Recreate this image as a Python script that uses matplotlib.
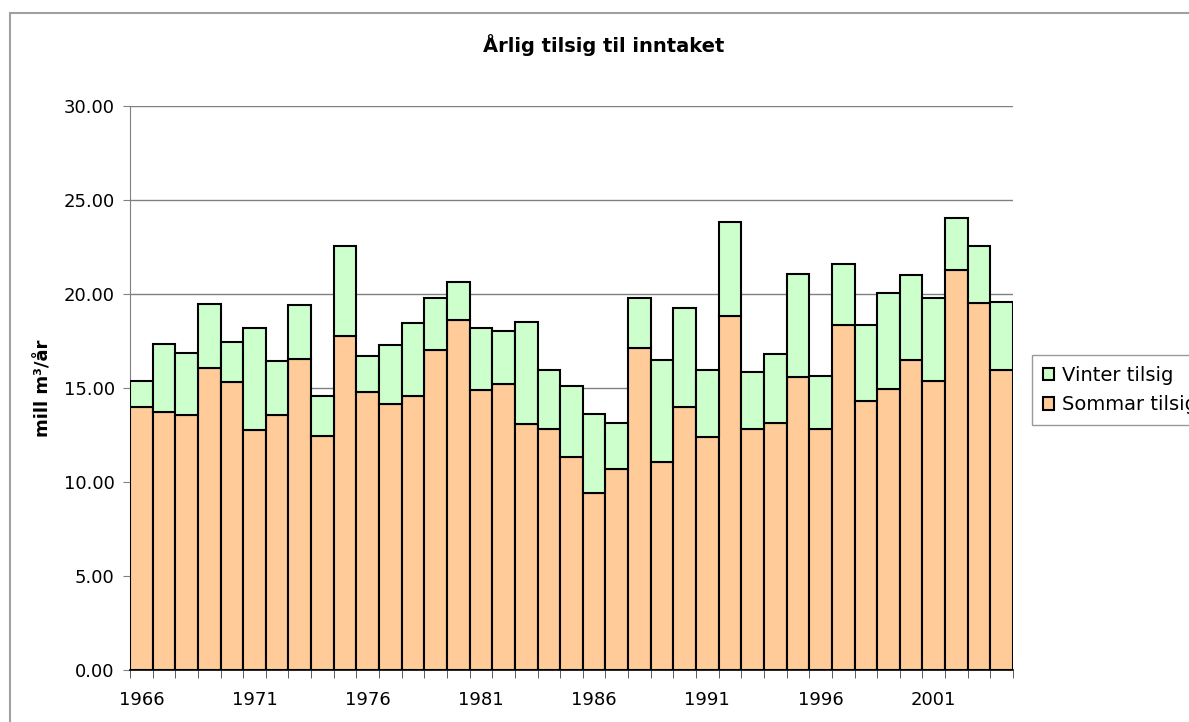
import numpy as np
import matplotlib
matplotlib.use("Agg")
import matplotlib.pyplot as plt
from matplotlib.patches import Rectangle, Patch

years = list(range(1966, 2005))
sommar = [13.97, 13.74, 13.58, 16.05, 15.30, 12.77, 13.56, 16.54, 12.46, 17.77,
          14.79, 14.15, 14.56, 17.00, 18.62, 14.89, 15.21, 13.07, 12.84, 11.33,
          9.43, 10.67, 17.11, 11.08, 13.97, 12.41, 18.85, 12.84, 13.16, 15.56,
          12.84, 18.37, 14.31, 14.96, 16.47, 15.37, 21.26, 19.50, 15.96]
totalt = [15.36, 17.34, 16.86, 19.49, 17.43, 18.19, 16.45, 19.43, 14.56, 22.55,
          16.70, 17.29, 18.44, 19.77, 20.66, 18.19, 18.03, 18.51, 15.96, 15.12,
          13.63, 13.16, 19.77, 16.47, 19.27, 15.94, 23.81, 15.87, 16.79, 21.08,
          15.62, 21.58, 18.33, 20.07, 20.99, 19.77, 24.06, 22.57, 19.57]
vinter = [t - s for t, s in zip(totalt, sommar)]

W, H = 1189, 722
fig = plt.figure(figsize=(W / 100, H / 100), dpi=100)
ax = fig.add_axes([130 / W, 1 - 670 / H, (1013 - 130) / W, (670 - 106) / H])

x = np.arange(len(years))
ax.bar(x, sommar, width=1.0, color="#FFCC99", edgecolor="black", linewidth=1.5,
       label="Sommar tilsig", zorder=3)
ax.bar(x, vinter, width=1.0, bottom=sommar, color="#CCFFCC", edgecolor="black",
       linewidth=1.5, label="Vinter tilsig", zorder=3)

ax.set_xlim(-0.5, len(years) - 0.5)
ax.set_ylim(0, 30)
ax.set_yticks(np.arange(0, 31, 5))
ax.set_yticklabels([f"{v:.2f}" for v in np.arange(0, 31, 5)], fontsize=13)
ax.yaxis.grid(True, color="#808080", linewidth=1, zorder=0)

# year labels centred on every fifth bar, tick marks between bars
ax.set_xticks(x[::5])
ax.set_xticklabels([str(y) for y in years[::5]], fontsize=13)
ax.tick_params(axis="x", which="major", length=0, pad=15)
ax.set_xticks(np.arange(-0.5, len(years), 1), minor=True)
ax.tick_params(axis="x", which="minor", length=6, direction="out", color="#404040")
ax.tick_params(axis="y", length=5, direction="out", color="#808080", pad=6)

for s in ["top", "right"]:
    ax.spines[s].set_visible(False)
ax.spines["left"].set_color("#808080")
ax.spines["bottom"].set_color("black")
ax.spines["bottom"].set_linewidth(1.2)

fig.text(604 / W, 1 - 45 / H, "Årlig tilsig til inntaket", ha="center", va="center",
         fontsize=14, fontweight="bold")
fig.text(43 / W, 1 - 388 / H, "mill m³/år", rotation=90, ha="center", va="center",
         fontsize=13, fontweight="bold")

handles = [Patch(facecolor="#CCFFCC", edgecolor="black", linewidth=1.5, label="Vinter tilsig"),
           Patch(facecolor="#FFCC99", edgecolor="black", linewidth=1.5, label="Sommar tilsig")]
leg = fig.legend(handles=handles, loc="upper left", bbox_to_anchor=(1032 / W, 1 - 355 / H),
                 fontsize=14, frameon=True, fancybox=False, handlelength=0.6,
                 handleheight=0.6, handletextpad=0.4, borderpad=0.55, labelspacing=0.55,
                 borderaxespad=0)
leg.get_frame().set_edgecolor("#808080")
leg.get_frame().set_linewidth(1)

fig.patches.append(Rectangle((10 / W, -0.1), 1.2, (H - 13) / H + 0.1, transform=fig.transFigure,
                             fill=False, edgecolor="#a0a0a0", linewidth=1.5))

fig.savefig("out.png", dpi=100)
